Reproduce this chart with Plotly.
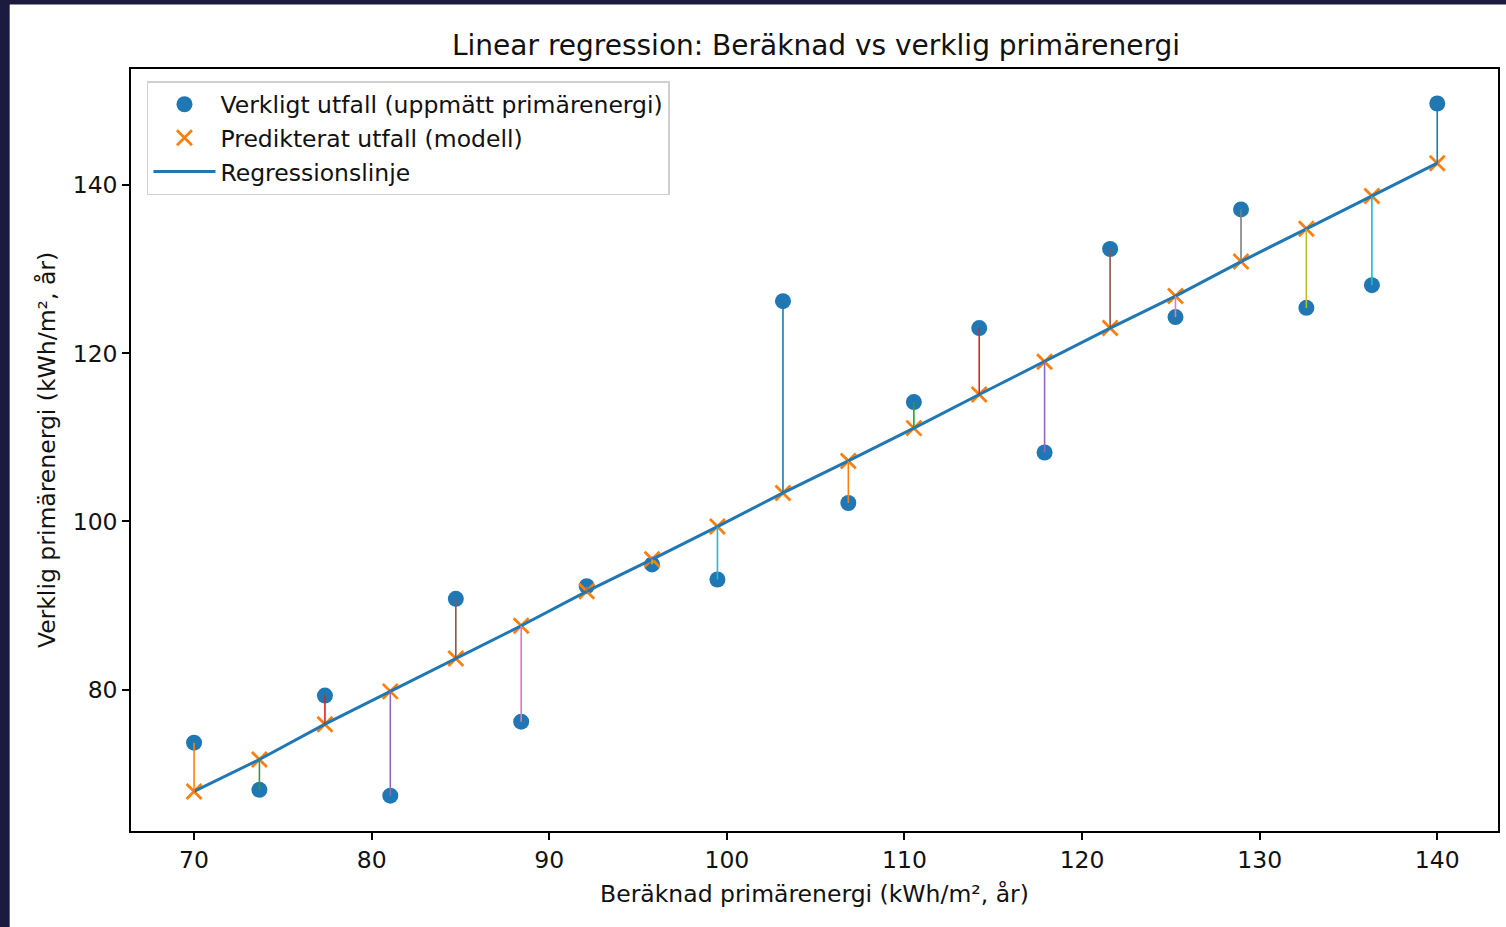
import plotly.graph_objects as go

# Data
berakn = [70.0, 73.68, 77.37, 81.05, 84.74, 88.42, 92.11, 95.79, 99.47, 103.16,
          106.84, 110.53, 114.21, 117.89, 121.58, 125.26, 128.95, 132.63, 136.32, 140.0]
verklig = [73.7, 68.1, 79.3, 67.4, 90.8, 76.2, 92.3, 94.9, 93.1, 126.2,
           102.2, 114.2, 123.0, 108.2, 132.4, 124.3, 137.1, 125.4, 128.1, 149.7]
predikterat = [67.9, 71.7, 75.9, 79.8, 83.7, 87.6, 91.7, 95.5, 99.4, 103.4,
               107.2, 111.1, 115.1, 119.0, 123.0, 126.8, 130.9, 134.8, 138.7, 142.6]
x_ticks = [70, 80, 90, 100, 110, 120, 130, 140]
y_ticks = [80, 100, 120, 140]

tab10 = ["#1f77b4", "#ff7f0e", "#2ca02c", "#d62728", "#9467bd",
         "#8c564b", "#e377c2", "#7f7f7f", "#bcbd22", "#17becf"]

FONT = "DejaVu Sans"
FS = 23.5
W, H = 1506, 927
L, R, T, B = 131, 6, 69, 96
PW, PH = W - L - R, H - T - B

fig = go.Figure()

fig.add_trace(go.Scatter(
    x=berakn, y=verklig, mode="markers", name="Verkligt utfall (uppmätt primärenergi)",
    marker=dict(color=tab10[0], size=16, line=dict(width=0)),
))
fig.add_trace(go.Scatter(
    x=berakn, y=predikterat, mode="markers", name="Predikterat utfall (modell)",
    marker=dict(symbol="x-thin", color=tab10[1], size=15, line=dict(color=tab10[1], width=2.8)),
))
fig.add_trace(go.Scatter(
    x=berakn, y=predikterat, mode="lines", name="Regressionslinje",
    line=dict(color=tab10[0], width=3),
))
for i, (xv, ya, yp) in enumerate(zip(berakn, verklig, predikterat)):
    fig.add_trace(go.Scatter(
        x=[xv, xv], y=[ya, yp], mode="lines", showlegend=False, hoverinfo="skip",
        line=dict(color=tab10[(i + 1) % 10], width=1.6),
    ))

def px_x(p):
    return (p - L) / PW

def px_y(p):
    return (H - B - p) / PH

navy = "#1b1a3f"
fig.add_shape(type="rect", xref="paper", yref="paper", layer="above",
              x0=px_x(-5), x1=px_x(9.5), y0=px_y(H + 10), y1=px_y(-10),
              fillcolor=navy, line=dict(width=0))
fig.add_shape(type="rect", xref="paper", yref="paper", layer="above",
              x0=px_x(-5), x1=px_x(W + 10), y0=px_y(4.5), y1=px_y(-10),
              fillcolor=navy, line=dict(width=0))

axis_common = dict(
    showgrid=False, zeroline=False, showline=True, linecolor="black", linewidth=1.5,
    mirror=True, ticks="outside", ticklen=7, tickwidth=1.5, tickcolor="black",
    tickfont=dict(family=FONT, size=FS, color="#111111"),
)

fig.update_layout(
    width=W, height=H,
    margin=dict(l=L, r=R, t=T, b=B),
    paper_bgcolor="white", plot_bgcolor="white",
    font=dict(family=FONT, color="#111111"),
    title=dict(text="Linear regression: Beräknad vs verklig primärenergi",
               x=px_x(817), xref="paper", xanchor="center",
               y=1 - 45 / H, yanchor="middle",
               font=dict(family=FONT, size=28, color="#111111")),
    xaxis=dict(range=[66.45, 143.42], tickvals=x_ticks,
               title=dict(text="Beräknad primärenergi (kWh/m², år)",
                          font=dict(family=FONT, size=FS, color="#111111"), standoff=13),
               **axis_common),
    yaxis=dict(range=[63.2, 153.8], tickvals=y_ticks,
               title=dict(text="Verklig primärenergi (kWh/m², år)",
                          font=dict(family=FONT, size=FS, color="#111111"), standoff=10),
               **axis_common),
    legend=dict(x=px_x(147), y=px_y(81), xanchor="left", yanchor="top",
                bgcolor="rgba(255,255,255,0.85)", bordercolor="#d0d0d0", borderwidth=1.5,
                font=dict(family=FONT, size=FS, color="#111111"),
                itemwidth=62),
    showlegend=True,
)

fig.write_html("out.html", config={"displayModeBar": False},
               post_script="document.body.style.margin='0';document.body.style.overflow='hidden';")
